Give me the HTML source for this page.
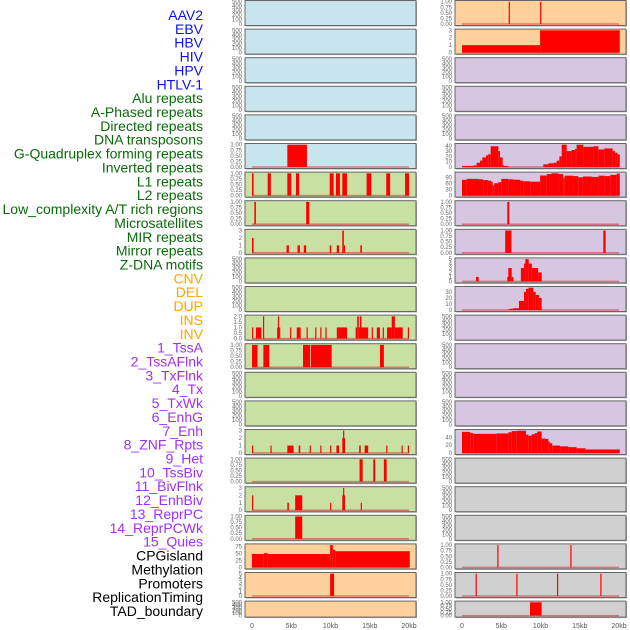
<!DOCTYPE html>
<html><head><meta charset="utf-8"><style>
body{margin:0;background:#fff;width:630px;height:630px;overflow:hidden}
svg{display:block}
.lab{font-family:"Liberation Sans",sans-serif;font-size:14px}
.tk{font-family:"Liberation Sans",sans-serif;font-size:6px;fill:#666}
.xt{font-family:"Liberation Sans",sans-serif;font-size:7px;fill:#555}
</style></head><body>
<svg id="c" width="630" height="630" viewBox="0 0 630 630"></svg>
<script>
// ---- data ----
const trackLabels=["AAV2","EBV","HBV","HIV","HPV","HTLV-1","Alu repeats","A-Phased repeats","Directed repeats","DNA transposons","G-Quadruplex forming repeats","Inverted repeats","L1 repeats","L2 repeats","Low_complexity A/T rich regions","Microsatellites","MIR repeats","Mirror repeats","Z-DNA motifs","CNV","DEL","DUP","INS","INV","1_TssA","2_TssAFlnk","3_TxFlnk","4_Tx","5_TxWk","6_EnhG","7_Enh","8_ZNF_Rpts","9_Het","10_TssBiv","11_BivFlnk","12_EnhBiv","13_ReprPC","14_ReprPCWk","15_Quies","CPGisland","Methylation","Promoters","ReplicationTiming","TAD_boundary"];
const labelGroups=[6,13,5,15,5];
const groupColors=["#1010ee","#0a6a0a","#ffa500","#a030f0","#000000"];
const xTickLabels=["0","5kb","10kb","15kb","20kb"];
const xTickValues=[0,5,10,15,20];
const leftBg=["#c8e4ec","#c8e4ec","#c8e4ec","#c8e4ec","#c8e4ec","#c8e4ec","#c8e0a2","#c8e0a2","#c8e0a2","#c8e0a2","#c8e0a2","#c8e0a2","#c8e0a2","#c8e0a2","#c8e0a2","#c8e0a2","#c8e0a2","#c8e0a2","#c8e0a2","#fed09c","#fed09c","#fed09c"];
const rightBg=["#fed09c","#fed09c","#d6c6e2","#d6c6e2","#d6c6e2","#d6c6e2","#d6c6e2","#d6c6e2","#d6c6e2","#d6c6e2","#d6c6e2","#d6c6e2","#d6c6e2","#d6c6e2","#d6c6e2","#d6c6e2","#d0d0d0","#d0d0d0","#d0d0d0","#d0d0d0","#d0d0d0","#d0d0d0"];
const tEmpty=[0,100,200,300,400,500], tProb=[0,0.25,0.5,0.75,1], tCnt3=[0,1,2,3], tIns=[0,0.5,1,1.5,2], tCnt5=[0,1,2,3,4,5];
// segments: [startKb,endKb,value]
const L6=[[4.5,7.0,1]];
const L7=[[0,0.2,1],[2.0,2.4,1],[4.5,5.0,1],[5.6,6.0,1],[9.9,10.4,1],[10.7,11.2,1],[11.5,12.1,1],[14.6,15.2,1],[17.1,17.6,1],[19.5,20,1]];
const L8=[[0.3,0.5,1],[6.9,7.3,1]];
const L9=[[0,0.2,2],[4.4,4.7,1],[5.8,6.1,1],[6.6,6.9,1],[9.9,10.1,1],[10.8,11.1,1],[11.5,11.7,3],[11.7,11.8,1],[13.8,14.0,1]];
const L12=[[0,0.1,1],[0.5,1.2,1],[1.4,1.55,2],[3.2,3.3,1],[3.3,3.45,2],[3.45,3.6,1],[4.85,5.0,1],[5.7,6.2,1],[6.95,7.1,1],[8.05,8.2,1],[8.7,8.85,1],[9.35,9.5,1],[10.8,12.1,1],[13.2,13.4,1],[13.4,13.6,2],[13.6,13.75,1],[13.75,13.95,2],[13.95,14.8,1],[15.25,15.4,1],[15.9,16.3,1],[16.65,16.8,1],[17.2,17.8,1],[17.8,18.2,2],[18.2,19.2,1],[19.85,20,1]];
const L13=[[0,0.7,1],[1.45,2.2,1],[6.5,7.4,1],[7.5,10.15,1],[16.3,16.8,1]];
const L16=[[0,0.15,1],[2.35,2.5,1],[4.5,5.3,1],[5.95,6.15,1],[7.35,7.5,1],[8.7,8.85,1],[9.95,10.1,1],[10.75,11.1,1],[11.5,11.6,2],[11.6,11.7,3],[11.7,11.8,2],[13.65,13.85,1],[14.35,14.8,1],[17.1,17.25,1],[19.05,19.2,1],[19.85,20,1]];
const L17=[[13.7,14.1,1],[15.45,15.7,1],[16.8,17.15,1]];
const L18=[[0,0.15,2],[4.5,4.7,1],[5.5,6.4,2],[9.95,10.1,1],[11.5,11.6,2],[11.6,11.7,3],[11.7,11.8,2],[13.85,14.0,1]];
const L19=[[5.5,6.4,1]];
const L20=[[0,1.5,48],[1.5,2.0,51],[2.0,9.95,48],[9.95,10.3,80],[10.3,10.6,63],[10.6,20.1,58]];
const L21=[[9.95,10.45,5]];
const R1=[[5.95,6.05,1],[9.95,10.05,1]];
const R2=[[0,9.95,1],[9.95,20.1,3]];
const R6=[[0,1.44,2],[1.44,1.87,3],[1.87,2.29,8],[2.29,2.59,12],[2.59,3.06,18],[3.06,3.35,22],[3.35,3.65,24],[3.65,4.63,39],[4.63,4.84,30],[4.84,5.18,18],[5.18,5.35,3],[5.35,5.9,2],[10.36,11.0,5],[11.0,11.63,7],[11.63,12.06,8],[12.06,12.4,12],[12.4,12.7,20],[12.7,13.33,42],[13.33,13.97,30],[13.97,14.4,32],[14.4,14.6,34],[14.6,15.46,42],[15.46,16.73,38],[16.73,17.37,39],[17.37,18.13,33],[18.13,19.19,35],[19.19,19.5,30],[19.5,19.8,27],[19.8,20.1,24]];
const R7=[[0,0.6,79],[0.6,2.1,84],[2.1,2.7,82],[2.7,3.3,78],[3.3,3.7,75],[3.7,3.9,70],[3.9,4.1,51],[4.1,4.6,62],[4.6,5.0,67],[5.0,5.9,84],[5.9,6.5,82],[6.5,7.4,80],[7.4,7.8,75],[7.8,8.7,72],[8.7,9.95,70],[9.95,10.8,101],[10.8,11.4,108],[11.4,12.3,112],[12.3,12.9,108],[12.9,13.1,90],[13.1,14.2,100],[14.2,14.8,98],[14.8,15.4,92],[15.4,16.5,96],[16.5,17.4,94],[17.4,18.2,100],[18.2,18.9,98],[18.9,19.7,104],[19.7,20.1,110]];
const R8=[[5.77,6.03,1]];
const R9=[[5.5,6.3,1],[18.0,18.3,1]];
const R10=[[1.78,2.12,1],[5.77,5.9,1],[5.9,6.33,3],[6.33,6.55,1],[7.5,7.9,3],[7.9,8.07,4],[8.07,8.5,5],[8.5,8.9,4],[8.9,9.7,3],[9.7,10.15,2]];
const R11=[[5.77,6.1,1],[6.1,6.5,2],[6.5,7.26,3],[7.26,7.9,15],[7.9,8.15,30],[8.15,8.45,35],[8.45,9.1,37],[9.1,9.4,30],[9.4,9.8,25],[9.8,10.15,20]];
const R16=[[0,1.06,54],[1.06,1.44,51],[1.44,4.42,49],[4.42,5.9,50],[5.9,6.33,53],[6.33,6.97,56],[6.97,8.15,57],[8.15,8.45,47],[8.45,8.87,44],[8.87,9.3,48],[9.3,9.6,51],[9.6,10.15,55],[10.15,10.57,37],[10.57,11.0,36],[11.0,11.2,29],[11.2,11.5,25],[11.5,12.5,19],[12.5,13.55,17],[13.55,14.6,15],[14.6,15.75,12],[15.75,20.1,9]];
const R20=[[4.5,4.6,1],[13.8,13.9,1]];
const R21=[[1.73,1.83,1],[6.92,7.02,1],[12.1,12.2,1],[17.62,17.72,1]];
const R22=[[8.66,10.15,1]];
// panel specs: [segments, ticks, yMax, tickDecimals]
const E=[null,tEmpty,500,0];
const leftSpecs=[E,E,E,E,E,[L6,tProb,1,2],[L7,tProb,1,2],[L8,tProb,1,2],[L9,tCnt3,3,0],E,E,[L12,tIns,2,1],[L13,tProb,1,2],E,E,[L16,tCnt3,3,0],[L17,tProb,1,2],[L18,tCnt3,3,0],[L19,tProb,1,2],[L20,[0,25,50,75],80,0],[L21,tCnt5,5,0],E];
const rightSpecs=[[R1,tProb,1,2],[R2,tCnt3,3,0],E,E,E,[R6,[0,10,20,30,40],42,0],[R7,[0,30,60,90],112,0],[R8,tProb,1,2],[R9,tProb,1,2],[R10,tCnt5,5,0],[R11,[0,10,20,30],37,0],E,E,E,E,[R16,[0,20,40],57,0],E,E,E,[R20,tProb,1,2],[R21,tProb,1,2],[R22,tProb,1,2]];

// ---- drawing ----
const NS="http://www.w3.org/2000/svg";
const svg=document.getElementById('c');
function mk(tag,attrs,parent){const e=document.createElementNS(NS,tag);for(const k in attrs)e.setAttribute(k,attrs[k]);(parent||svg).appendChild(e);return e;}
// labels
let li=0;
labelGroups.forEach((n,g)=>{for(let j=0;j<n;j++){const t=mk('text',{x:203,y:20+li*13.86,'text-anchor':'end',class:'lab',fill:groupColors[g]});


t.textContent=trackLabels[li];li++;}});
function panel(col,i,spec,bg){
  const px0=col?455:245, pw=171, top=i*28.6+0.5, h=(i===21)?16:25;
  const dx0=px0+7, dx1=px0+164;
  const xs=kb=>dx0+(kb/20)*(dx1-dx0);
  const yb=top+h-1.5, yt=top+1.2;
  const [segs,ticks,ymax,dec]=spec;
  const ys=v=>yb-(v/ymax)*(yb-yt);
  const g=mk('g',{});
  
  
  mk('rect',{x:px0+1,y:top+1,width:pw,height:h,fill:'#aaa'},g);
  mk('rect',{x:px0,y:top,width:pw,height:h,fill:bg,stroke:'#666','stroke-width':1},g);
  ticks.forEach(v=>{const t=mk('text',{x:px0-3,y:ys(v)+2,'text-anchor':'end',class:'tk'},g);t.textContent=v.toFixed(dec);});
  if(segs){
    mk('line',{x1:xs(0),x2:xs(20),y1:yb,y2:yb,stroke:'rgba(220,40,40,0.55)','stroke-width':1.5},g);
    segs.forEach(s=>{const x=xs(s[0]),w=Math.max(xs(s[1])-x,1.2);
      const r=mk('rect',{x:x,y:ys(s[2]),width:w,height:yb-ys(s[2]),fill:'#ff0000'},g);
      
      });
  }
  if(i===21){xTickValues.forEach((v,k)=>{const t=mk('text',{x:xs(v),y:628,'text-anchor':'middle',class:'xt'},g);t.textContent=xTickLabels[k];});}
}
leftSpecs.forEach((s,i)=>panel(0,i,s,leftBg[i]));
rightSpecs.forEach((s,i)=>panel(1,i,s,rightBg[i]));
</script>
</body></html>
